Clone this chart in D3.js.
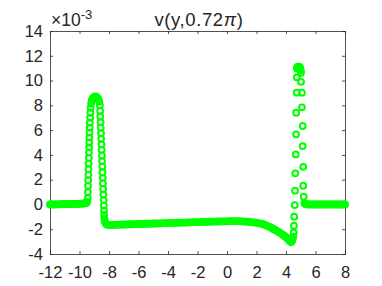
<!DOCTYPE html>
<html>
<head>
<meta charset="utf-8">
<script src="https://cdn.jsdelivr.net/npm/d3@7"></script>
<style>
    body { margin: 0; background: #fff; }
    svg text { font-family: "Liberation Sans", Arial, sans-serif; fill: #262626; }
</style>
</head>
<body>
<svg width="382" height="286"></svg>
<script>
const xTicks = [-12, -10, -8, -6, -4, -2, 0, 2, 4, 6, 8];
const yTicks = [-4, -2, 0, 2, 4, 6, 8, 10, 12, 14];

// [y, v*1e3], segment by segment
const flatLeft = [
    [-12, 0.0], [-11.9, 0.0], [-11.8, 0.0], [-11.7, 0.0], [-11.6, 0.01], [-11.5, 0.01],
    [-11.4, 0.01], [-11.3, 0.02], [-11.2, 0.02], [-11.1, 0.02], [-11, 0.02], [-10.9, 0.03],
    [-10.8, 0.03], [-10.7, 0.03], [-10.6, 0.03], [-10.5, 0.04], [-10.4, 0.04], [-10.3, 0.05],
    [-10.2, 0.05], [-10.1, 0.05], [-10, 0.06], [-9.9, 0.06], [-9.8, 0.07], [-9.72, 0.08],
    [-9.65, 0.09], [-9.58, 0.11], [-9.53, 0.14], [-9.48, 0.2]
];
const peak1 = [
    [-9.44, 0.5], [-9.43, 1.0], [-9.42, 1.5], [-9.41, 1.95], [-9.40, 2.4], [-9.39, 2.85],
    [-9.38, 3.3], [-9.37, 3.75], [-9.36, 4.2], [-9.35, 4.6], [-9.34, 5.0], [-9.33, 5.4],
    [-9.32, 5.8], [-9.31, 6.2], [-9.30, 6.6], [-9.28, 7.0], [-9.26, 7.4], [-9.24, 7.8],
    [-9.21, 8.15], [-9.17, 8.4], [-9.1, 8.58], [-9.02, 8.68], [-8.94, 8.72], [-8.86, 8.7],
    [-8.78, 8.62], [-8.71, 8.48], [-8.66, 8.3],
    [-8.62, 8.0], [-8.60, 7.55], [-8.59, 7.1], [-8.57, 6.65], [-8.56, 6.2], [-8.54, 5.75],
    [-8.53, 5.3], [-8.51, 4.85], [-8.50, 4.4], [-8.48, 3.95], [-8.47, 3.5], [-8.45, 3.05],
    [-8.44, 2.6], [-8.42, 2.15], [-8.41, 1.7], [-8.39, 1.25], [-8.38, 0.8], [-8.36, 0.35],
    [-8.35, -0.1], [-8.34, -0.5], [-8.33, -0.85], [-8.31, -1.15], [-8.28, -1.38],
    [-8.22, -1.53], [-8.14, -1.61], [-8.05, -1.65]
];
const band = [
    [-7.95, -1.66], [-7.8, -1.66], [-7.65, -1.65], [-7.5, -1.64], [-7.35, -1.63], [-7.2, -1.63],
    [-7.05, -1.62], [-6.9, -1.62], [-6.75, -1.61], [-6.6, -1.60], [-6.45, -1.60], [-6.3, -1.59],
    [-6.15, -1.59], [-6.0, -1.58], [-5.85, -1.58], [-5.7, -1.57], [-5.55, -1.56], [-5.4, -1.56],
    [-5.25, -1.55], [-5.1, -1.55], [-4.95, -1.54], [-4.8, -1.53], [-4.65, -1.53], [-4.5, -1.52],
    [-4.35, -1.51], [-4.2, -1.51], [-4.05, -1.50], [-3.9, -1.50], [-3.75, -1.49], [-3.6, -1.48],
    [-3.45, -1.48], [-3.3, -1.47], [-3.15, -1.47], [-3.0, -1.46], [-2.85, -1.46], [-2.7, -1.45],
    [-2.55, -1.44], [-2.4, -1.44], [-2.25, -1.43], [-2.1, -1.43], [-1.95, -1.42], [-1.8, -1.42],
    [-1.65, -1.41], [-1.5, -1.40], [-1.35, -1.40], [-1.2, -1.39], [-1.05, -1.39], [-0.9, -1.38],
    [-0.75, -1.38], [-0.6, -1.37], [-0.45, -1.37], [-0.3, -1.36], [-0.15, -1.36], [0.0, -1.36],
    [0.15, -1.35], [0.3, -1.35], [0.45, -1.35], [0.6, -1.35], [0.75, -1.35], [0.9, -1.36],
    [1.05, -1.37], [1.2, -1.38], [1.35, -1.39], [1.5, -1.41], [1.65, -1.43], [1.8, -1.45],
    [1.95, -1.47], [2.1, -1.50], [2.25, -1.54], [2.4, -1.58], [2.55, -1.64], [2.7, -1.71],
    [2.85, -1.79], [3.0, -1.88], [3.1, -1.95], [3.2, -2.02], [3.3, -2.08], [3.4, -2.15],
    [3.5, -2.22], [3.6, -2.29], [3.7, -2.37], [3.8, -2.45], [3.9, -2.54], [4.0, -2.64],
    [4.1, -2.75], [4.2, -2.88], [4.27, -2.98], [4.33, -3.04], [4.39, -3.0], [4.44, -2.85],
    [4.49, -2.6]
];
const peak2 = [
    [4.52, -2.28], [4.54, -1.72], [4.56, -0.99], [4.59, -0.05], [4.61, 1.11], [4.63, 2.51],
    [4.66, 4.04], [4.68, 5.66], [4.69, 7.40], [4.73, 9.02], [4.73, 10.26], [4.74, 10.98],
    [4.76, 11.05], [4.79, 11.1], [4.82, 11.12], [4.86, 11.12], [4.9, 11.1], [4.93, 11.08],
    [4.96, 11.0], [4.98, 10.92], [5.0, 10.8],
    [5.02, 10.63], [5.02, 9.90], [5.08, 9.02], [5.08, 7.84], [5.13, 6.33], [5.13, 4.71],
    [5.17, 3.04], [5.17, 1.51], [5.2, 0.62]
];
const flatRight = [
    [5.25, 0.1], [5.32, 0.03], [5.4, 0.01], [5.5, 0.0], [5.6, 0.0], [5.7, 0.0], [5.8, 0.0],
    [5.9, 0.0], [6, 0.0], [6.1, 0.0], [6.2, 0.0], [6.3, 0.0], [6.4, 0.0], [6.5, 0.0],
    [6.6, 0.0], [6.7, 0.0], [6.8, 0.0], [6.9, 0.0], [7, 0.0], [7.1, 0.0], [7.2, 0.0],
    [7.3, 0.0], [7.4, 0.0], [7.5, 0.0], [7.6, 0.0], [7.7, 0.0], [7.8, 0.0], [7.9, 0.0],
    [8, 0.0]
];

const points = [].concat(flatLeft, peak1, band, peak2, flatRight);

const svg = d3.select("svg");
const box = { left: 50, right: 345, top: 31, bottom: 254 };

const x = d3.scaleLinear().domain([-12, 8]).range([box.left, box.right]);
const y = d3.scaleLinear().domain([-4, 14]).range([box.bottom, box.top]);

function styleAxis(g) {
    g.selectAll("path, line").attr("stroke", "#262626").attr("stroke-width", 0.8);
    g.select(".domain").attr("shape-rendering", "crispEdges");
    g.selectAll("text").attr("font-size", 16.5).attr("fill", "#262626")
        .attr("font-family", "Liberation Sans, Arial, sans-serif");
}

svg.append("g")
    .attr("transform", `translate(0,${box.bottom})`)
    .call(d3.axisBottom(x).tickValues(xTicks).tickSizeInner(-3).tickSizeOuter(0)
        .tickPadding(12.5).tickFormat(d => String(d)))
    .call(styleAxis);

svg.append("g")
    .attr("transform", `translate(0,${box.top})`)
    .call(d3.axisTop(x).tickValues(xTicks).tickSizeInner(-3).tickSizeOuter(0).tickFormat(""))
    .call(styleAxis);

svg.append("g")
    .attr("transform", `translate(${box.left},0)`)
    .call(d3.axisLeft(y).tickValues(yTicks).tickSizeInner(-3).tickSizeOuter(0)
        .tickPadding(7).tickFormat(d => String(d)))
    .call(styleAxis);

svg.append("g")
    .attr("transform", `translate(${box.right},0)`)
    .call(d3.axisRight(y).tickValues(yTicks).tickSizeInner(-3).tickSizeOuter(0).tickFormat(""))
    .call(styleAxis);

// markers
svg.append("g")
    .selectAll("circle")
    .data(points)
    .join("circle")
    .attr("cx", d => x(d[0]))
    .attr("cy", d => y(d[1]))
    .attr("r", 2.9)
    .attr("fill", "none")
    .attr("stroke", "#00ff00")
    .attr("stroke-width", 2);

// exponent label
const expo = svg.append("text")
    .attr("x", 51)
    .attr("y", 26)
    .attr("font-size", 17.5);
expo.append("tspan").text("×10");
expo.append("tspan").attr("dy", -7).attr("font-size", 13).text("-3");

// title
const title = svg.append("text")
    .attr("x", 199)
    .attr("y", 26)
    .attr("text-anchor", "middle")
    .attr("font-size", 18.5)
    .attr("letter-spacing", 0.6);
title.append("tspan").text("v(y,0.72");
title.append("tspan").attr("font-style", "italic").text("π");
title.append("tspan").text(")");
</script>
</body>
</html>
